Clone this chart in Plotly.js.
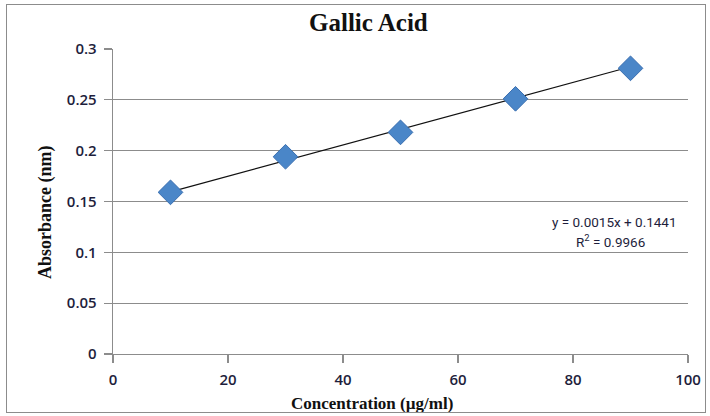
<!DOCTYPE html>
<html>
<head>
<meta charset="utf-8">
<script src="https://cdn.plot.ly/plotly-3.0.1.min.js"></script>
<style>
  html, body { margin: 0; padding: 0; background: #fff; }
  #wrap { position: relative; width: 710px; height: 416px; }
  #chart { width: 710px; height: 416px; }
  #frame { position: absolute; left: 6px; top: 4px; width: 698px; height: 407px; border: 1px solid #8c8c8c; pointer-events: none; }
</style>
</head>
<body>
<div id="wrap">
  <div id="chart"></div>
  <div id="frame"></div>
</div>
<script>
// Data
const concentration = [10, 30, 50, 70, 90];
const absorbance = [0.159, 0.194, 0.218, 0.251, 0.281];
// Trendline endpoints
const trendX = [10, 90];
const trendY = [0.1595, 0.2825];
const xTicks = [0, 20, 40, 60, 80, 100];
const yTicks = [0, 0.05, 0.1, 0.15, 0.2, 0.25, 0.3];
const yTickLabels = ['0', '0.05', '0.1', '0.15', '0.2', '0.25', '0.3'];
const titleText = '<b>Gallic Acid</b>';
const xTitleText = '<b>Concentration (µg/ml)</b>';
const yTitleText = '<b>Absorbance (nm)</b>';
const equationText = 'y = 0.0015x + 0.1441';
const r2Text = 'R<sup>2</sup> = 0.9966';

const narrow = 'Liberation Sans Narrow, Roboto, Arial';
const tickFont = { family: 'Open Sans, Roboto, Arial', size: 15, color: '#1e1e3c', weight: 600 };
const serifBold = 'Liberation Serif, Times New Roman, serif';

const traces = [
  {
    x: trendX, y: trendY, mode: 'lines', type: 'scatter',
    line: { color: '#111', width: 1.2 },
    hoverinfo: 'skip', showlegend: false
  },
  {
    x: concentration, y: absorbance, mode: 'markers', type: 'scatter',
    marker: { symbol: 'diamond', size: 19, color: '#4a86c8',
      line: { color: '#3a6fb0', width: 1 } },
    showlegend: false
  }
];

const layout = {
  width: 710, height: 416,
  margin: { l: 113, r: 22, t: 49, b: 62 },
  paper_bgcolor: '#fff', plot_bgcolor: '#fff',
  xaxis: {
    range: [0, 100], tickvals: xTicks, ticktext: xTicks.map(String),
    showgrid: false, zeroline: false, showline: true, linecolor: '#8c8c8c', linewidth: 1.3,
    ticks: 'outside', ticklen: 8, tickcolor: '#8c8c8c', tickwidth: 1.3,
    ticklabelstandoff: 4,
    tickfont: tickFont,
    fixedrange: true
  },
  yaxis: {
    range: [0, 0.3], tickvals: yTicks, ticktext: yTickLabels,
    showgrid: true, gridcolor: '#8c8c8c', gridwidth: 1.3,
    zeroline: false, showline: true, linecolor: '#8c8c8c', linewidth: 1.3,
    ticks: 'outside', ticklen: 8, tickcolor: '#8c8c8c', tickwidth: 1.3,
    ticklabelstandoff: 4,
    tickfont: tickFont,
    fixedrange: true
  },
  annotations: [
    { xref: 'paper', yref: 'paper', x: 0.445, y: (416 - 23 - 62) / 305, xanchor: 'center', yanchor: 'middle',
      text: titleText, showarrow: false, font: { family: serifBold, size: 25, color: '#111' } },
    { xref: 'paper', yref: 'paper', x: 0.45, y: -(403 - 354) / 305, xanchor: 'center', yanchor: 'middle',
      text: xTitleText, showarrow: false, font: { family: serifBold, size: 17, color: '#111' } },
    { xref: 'paper', yref: 'paper', x: (45 - 113) / 575, y: (354 - 212) / 305, xanchor: 'center', yanchor: 'middle',
      textangle: -90, text: yTitleText, showarrow: false, font: { family: serifBold, size: 18, color: '#111' } },
    { xref: 'x', yref: 'y', x: 98.5, y: 0.130, xanchor: 'right', yanchor: 'middle',
      text: equationText, showarrow: false, font: { family: narrow, size: 13.5, color: '#1e1e3c' } },
    { xref: 'x', yref: 'y', x: 86.5, y: 0.111, xanchor: 'center', yanchor: 'middle',
      text: r2Text, showarrow: false, font: { family: narrow, size: 13.5, color: '#1e1e3c' } }
  ]
};

Plotly.newPlot('chart', traces, layout, { displayModeBar: false, staticPlot: true });
</script>
</body>
</html>
